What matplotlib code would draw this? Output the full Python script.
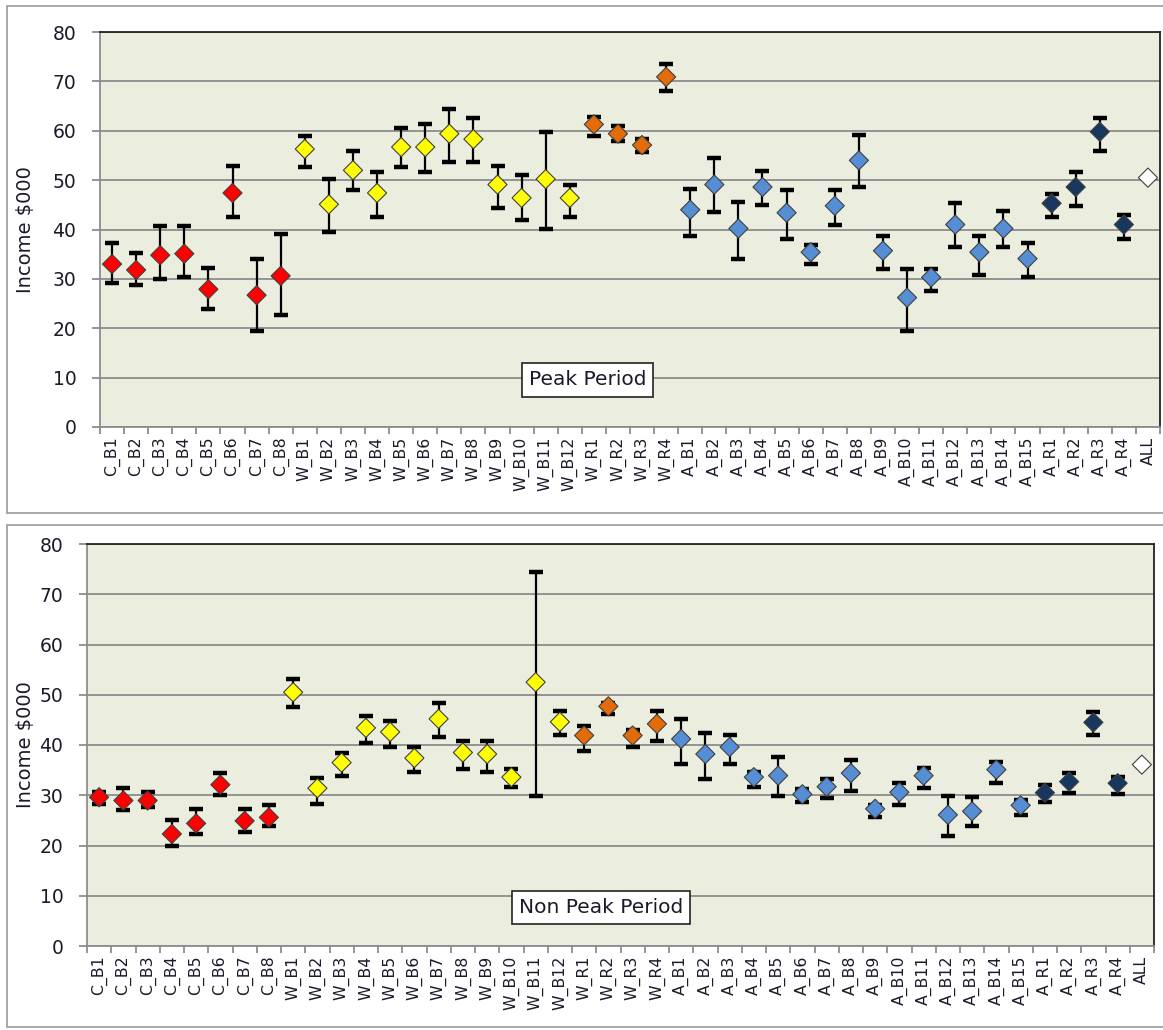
import matplotlib
matplotlib.use("Agg")
import matplotlib.pyplot as plt
import numpy as np
from matplotlib.patches import Rectangle

categories = ["C_B1", "C_B2", "C_B3", "C_B4", "C_B5", "C_B6", "C_B7", "C_B8",
              "W_B1", "W_B2", "W_B3", "W_B4", "W_B5", "W_B6", "W_B7", "W_B8",
              "W_B9", "W_B10", "W_B11", "W_B12",
              "W_R1", "W_R2", "W_R3", "W_R4",
              "A_B1", "A_B2", "A_B3", "A_B4", "A_B5", "A_B6", "A_B7", "A_B8",
              "A_B9", "A_B10", "A_B11", "A_B12", "A_B13", "A_B14", "A_B15",
              "A_R1", "A_R2", "A_R3", "A_R4", "ALL"]

nan = float("nan")

peak_mean = [33.0, 31.8, 34.8, 35.1, 27.9, 47.4, 26.7, 30.6,
             56.3, 45.1, 52.0, 47.4, 56.7, 56.7, 59.4, 58.3, 49.1, 46.4, 50.2, 46.4,
             61.3, 59.4, 57.1, 70.9,
             44.0, 49.1, 40.2, 48.6, 43.4, 35.4, 44.8, 54.0, 35.7, 26.2, 30.3, 41.0, 35.4, 40.2, 34.1,
             45.3, 48.6, 59.8, 41.0, 50.5]
peak_high = [37.2, 35.3, 40.7, 40.7, 32.2, 52.9, 34.1, 39.1,
             59.0, 50.2, 55.9, 51.7, 60.6, 61.3, 64.4, 62.5, 52.9, 51.0, 59.8, 49.1,
             62.8, 60.9, 58.4, 73.5,
             48.3, 54.5, 45.6, 51.8, 48.0, 36.8, 48.0, 59.1, 38.7, 31.9, 31.9, 45.3, 38.7, 43.7, 37.2,
             47.2, 51.7, 62.5, 42.9, nan]
peak_low = [29.2, 28.7, 29.9, 30.3, 23.8, 42.6, 19.5, 22.7,
            52.6, 39.5, 48.0, 42.6, 52.6, 51.7, 53.7, 53.7, 44.4, 41.9, 40.2, 42.6,
            59.0, 58.0, 55.6, 68.0,
            38.7, 43.5, 34.1, 44.9, 38.1, 33.0, 41.0, 48.6, 31.9, 19.5, 27.6, 36.5, 30.7, 36.5, 30.3,
            42.6, 44.8, 55.9, 38.1, nan]

nonpeak_mean = [29.6, 28.95, 28.95, 22.3, 24.4, 32.1, 24.9, 25.6,
                50.5, 31.4, 36.5, 43.4, 42.6, 37.4, 45.2, 38.5, 38.2, 33.6, 52.5, 44.6,
                41.9, 47.7, 41.9, 44.2,
                41.2, 38.2, 39.6, 33.6, 33.9, 30.2, 31.7, 34.4, 27.3, 30.6, 33.9, 26.1, 26.8, 35.1, 28.0,
                30.5, 32.7, 44.5, 32.4, 36.1]
nonpeak_high = [30.7, 31.4, 30.6, 25.0, 27.2, 34.4, 27.2, 28.0,
                53.2, 33.5, 38.5, 45.7, 44.7, 39.6, 48.3, 40.8, 40.8, 35.3, 74.4, 46.8,
                43.7, 48.3, 43.0, 46.8,
                45.2, 42.4, 41.9, 34.7, 37.7, 31.2, 33.3, 37.1, 28.1, 32.5, 35.5, 29.9, 29.6, 36.7, 29.0,
                32.1, 34.4, 46.5, 33.6, nan]
nonpeak_low = [28.3, 27.1, 27.6, 20.0, 22.3, 30.1, 22.6, 23.8,
               47.5, 28.3, 33.9, 40.4, 39.7, 34.7, 41.5, 35.2, 34.7, 31.7, 29.9, 41.9,
               38.9, 46.1, 39.6, 40.7,
               36.3, 33.2, 36.3, 31.7, 29.9, 28.6, 29.4, 30.9, 25.6, 28.0, 31.4, 21.8, 23.9, 32.5, 26.1,
               28.6, 30.5, 41.9, 30.2, nan]

group_colors = {"C": "#FF0000", "W_B": "#FFFF00", "W_R": "#E36C09",
                "A_B": "#558ED5", "A_R": "#17375E", "ALL": "#FFFFFF"}


def group_of(label):
    if label == "ALL":
        return "ALL"
    if label.startswith("C_"):
        return "C"
    return label[:3]


plt.rcParams['font.family'] = ['DejaVu Sans']

fig = plt.figure(figsize=(11.63, 10.30), dpi=100)

# outer chart frames
for (y0, y1) in [(6 / 1030, 513 / 1030), (525 / 1030, 1027 / 1030)]:
    fig.add_artist(Rectangle((7 / 1163, 1 - y1), 1.2, y1 - y0, transform=fig.transFigure,
                             facecolor="white", edgecolor="#9a9a9a", linewidth=1.2, zorder=0))


def draw_panel(rect, mean, low, high, title, box_xy, lab_x):
    ax = fig.add_axes(rect)
    ax.set_facecolor("#EBEEDE")
    x = np.arange(len(categories))
    mean = np.array(mean, dtype=float)
    low = np.array(low, dtype=float)
    high = np.array(high, dtype=float)
    m = np.isfinite(low)
    ax.errorbar(x[m], mean[m], yerr=[mean[m] - low[m], high[m] - mean[m]], fmt="none",
                ecolor="black", elinewidth=1.6, capsize=4.8, capthick=3.2, zorder=3)
    colors = [group_colors[group_of(c)] for c in categories]
    ax.scatter(x, mean, marker="D", s=95, c=colors, edgecolors="#404040",
               linewidths=0.8, zorder=4)
    ax.set_xlim(-0.5, len(categories) - 0.5)
    ax.set_ylim(0, 80)
    ax.set_yticks(np.arange(0, 81, 10))
    ax.grid(axis="y", color="#8c8c8c", linewidth=1.3)
    ax.set_axisbelow(True)
    ax.set_xticks(x)
    ax.set_xticklabels(categories, rotation=90, fontsize=11.3, color="#1a1a2a")
    ax.set_xticks(np.arange(len(categories) + 1) - 0.5, minor=True)
    ax.tick_params(axis="x", which="major", length=0, pad=7)
    ax.tick_params(axis="x", which="minor", length=5, color="#8c8c8c", width=1.3)
    ax.tick_params(axis="y", length=6, color="#8c8c8c", width=1.3, labelsize=13.5,
                   labelcolor="#1a1a2a", pad=11)
    for s in ["left", "bottom"]:
        ax.spines[s].set_color("#8c8c8c")
        ax.spines[s].set_linewidth(1.3)
    for s in ["top", "right"]:
        ax.spines[s].set_color("#222222")
        ax.spines[s].set_linewidth(1.3)
    ax.set_ylabel("Income $000", fontsize=14, color="#1a1a2a")
    ax.yaxis.set_label_coords(lab_x, 0.5)
    ax.text(box_xy[0], box_xy[1], title, transform=ax.transAxes, ha="center", va="center",
            fontsize=14.5, color="#1a1a2a",
            bbox=dict(boxstyle="square,pad=0.35", facecolor="white", edgecolor="#222222",
                      linewidth=1.2))
    return ax


draw_panel([100 / 1163, 1 - 427 / 1030, 1060 / 1163, 395 / 1030],
           peak_mean, peak_low, peak_high, "Peak Period", (0.460, 0.119), -0.061)
draw_panel([87 / 1163, 1 - 946 / 1030, 1067 / 1163, 402 / 1030],
           nonpeak_mean, nonpeak_low, nonpeak_high, "Non Peak Period", (0.482, 0.095), -0.049)

fig.savefig("out.png", dpi=100)
